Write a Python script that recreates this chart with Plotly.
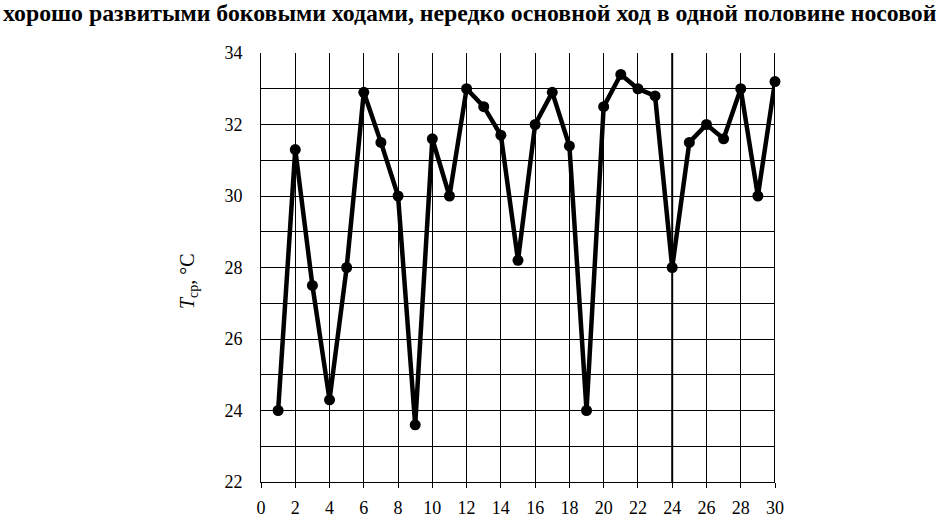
import plotly.graph_objects as go

# Data
day = list(range(1, 31))
t_avg = [24.0, 31.3, 27.5, 24.3, 28.0, 32.9, 31.5, 30.0, 23.6, 31.6,
         30.0, 33.0, 32.5, 31.7, 28.2, 32.0, 32.9, 31.4, 24.0, 32.5,
         33.4, 33.0, 32.8, 28.0, 31.5, 32.0, 31.6, 33.0, 30.0, 33.2]

x_ticks = list(range(0, 31, 2))
y_ticks = list(range(22, 35, 2))

header_text = "<b>хорошо развитыми боковыми ходами, нередко основной ход в одной половине носовой</b>"
y_title = "<i>T</i><sub>ср</sub>, °C"

FONT = "Liberation Serif, Times New Roman, serif"

W, H = 939, 518
L, R, T, B = 261, 164, 53, 36
PW = W - L - R
PH = H - T - B

fig = go.Figure()
fig.add_trace(go.Scatter(
    x=day, y=t_avg, mode="lines+markers",
    line=dict(color="black", width=4.5),
    marker=dict(color="black", size=11),
    cliponaxis=False, showlegend=False,
))

fig.update_layout(
    width=W, height=H,
    margin=dict(l=L, r=R, t=T, b=B),
    paper_bgcolor="white", plot_bgcolor="white",
    font=dict(family=FONT, color="black", size=18),
    xaxis=dict(
        range=[0, 30], tickvals=x_ticks, ticktext=[str(v) for v in x_ticks],
        showgrid=True, gridcolor="black", gridwidth=1,
        showline=True, linecolor="black", linewidth=1,
        ticks="outside", ticklen=5, tickcolor="black",
        zeroline=False, tickfont=dict(size=18, family=FONT),
        automargin=False, ticklabelstandoff=4,
    ),
    yaxis=dict(
        range=[22, 34], tickvals=y_ticks, ticktext=[str(v) for v in y_ticks],
        showgrid=True, gridcolor="black", gridwidth=1,
        minor=dict(dtick=1, showgrid=True, gridcolor="black", gridwidth=1),
        showline=True, linecolor="black", linewidth=1,
        ticks="", zeroline=False, ticklabelstandoff=14,
        tickfont=dict(size=18, family=FONT),
        automargin=False,
    ),
    shapes=[
        dict(type="line", xref="x", yref="y", x0=24, x1=24, y0=22, y1=34,
             line=dict(color="black", width=2), layer="below"),
        dict(type="line", xref="x", yref="y", x0=30, x1=30, y0=22, y1=34,
             line=dict(color="black", width=2), layer="below"),
    ],
    annotations=[
        dict(text=header_text, xref="paper", yref="paper",
             x=(469.5 - L) / PW, y=1 + (T - 13) / PH,
             xanchor="center", yanchor="middle", showarrow=False,
             font=dict(size=23.8, family=FONT, color="black")),
        dict(text=y_title, xref="paper", yref="paper", x=(188 - L) / PW,
             y=1 - (281 - T) / PH,
             xanchor="center", yanchor="middle", showarrow=False, textangle=-90,
             font=dict(size=20, family=FONT, color="black")),
    ],
)

fig.write_html(
    "out.html",
    config={"displayModeBar": False},
    post_script="document.body.style.margin='0';document.body.style.padding='0';",
)
